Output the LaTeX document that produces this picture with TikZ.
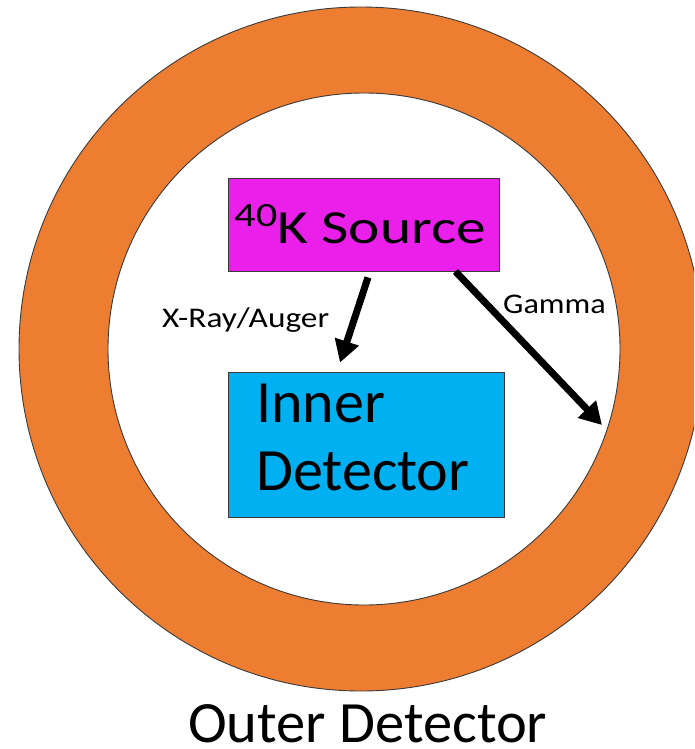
\documentclass[tikz,border=0pt]{standalone}
\usepackage{fontspec}
\setmainfont{Carlito}
\usetikzlibrary{arrows.meta}
\definecolor{ringorange}{HTML}{ED7D31}
\definecolor{srcmag}{HTML}{EA1FEA}
\definecolor{detblue}{HTML}{00B0F0}
\definecolor{edge}{HTML}{3A3A3A}
\tikzset{
  boxstyle/.style={draw=edge, line width=0.9pt, inner sep=0pt, minimum width=#1},
  txt/.style={inner sep=0pt, anchor=base west, text=black},
  ray/.style={line width=7pt, -{Triangle[length=22pt,width=24pt]}},
}
\begin{document}
\begin{tikzpicture}[x=1pt,y=-1pt]
\useasboundingbox (0,0) rectangle (694,749);
\clip (0,0) rectangle (694,749);
% ring
\coordinate (oc) at (361,349);
\coordinate (ic) at (364,349);
\fill[ringorange, even odd rule] (oc) circle (342) (ic) circle (256);
\draw[edge, line width=0.9pt] (oc) circle (342);
\draw[edge, line width=0.9pt] (ic) circle (256);
% boxes
\node[boxstyle=271pt, minimum height=93pt, fill=srcmag] (src) at (363.5,224.5) {};
\node[boxstyle=276pt, minimum height=145pt, fill=detblue] (inner) at (366,444.5) {};
% texts
\node[txt] (srctext) at (234,243) {\scalebox{1.25}[1]{\fontsize{47.5}{50}\selectfont\raisebox{17pt}{\fontsize{34}{34}\selectfont 40}K Source}};
\node[txt] (innertext1) at (256,422) {\fontsize{60}{68}\selectfont Inner};
\node[txt] (innertext2) at (256,490) {\fontsize{60}{68}\selectfont Detector};
\node[txt] (outertext) at (188,742) {\raisebox{0pt}[\height][0pt]{\fontsize{58.5}{60}\selectfont Outer Detector}};
\node[txt] (xlabel) at (162,327) {\scalebox{1.17}[1]{\fontsize{28.5}{30}\selectfont X-Ray/Auger}};
\node[txt] (glabel) at (503,313) {\scalebox{1.13}[1]{\fontsize{28.5}{30}\selectfont Gamma}};
% arrows
\coordinate (xs) at ([xshift=4.5pt,yshift=-6pt]src.south);
\coordinate (xe) at ([xshift=-26pt,yshift=9pt]inner.north);
\coordinate (gs) at ([xshift=-44pt,yshift=0pt]src.south east);
\coordinate (ge) at (602,425);
\draw[ray] (xs) -- (xe);
\draw[ray] (gs) -- (ge);
\end{tikzpicture}
\end{document}
